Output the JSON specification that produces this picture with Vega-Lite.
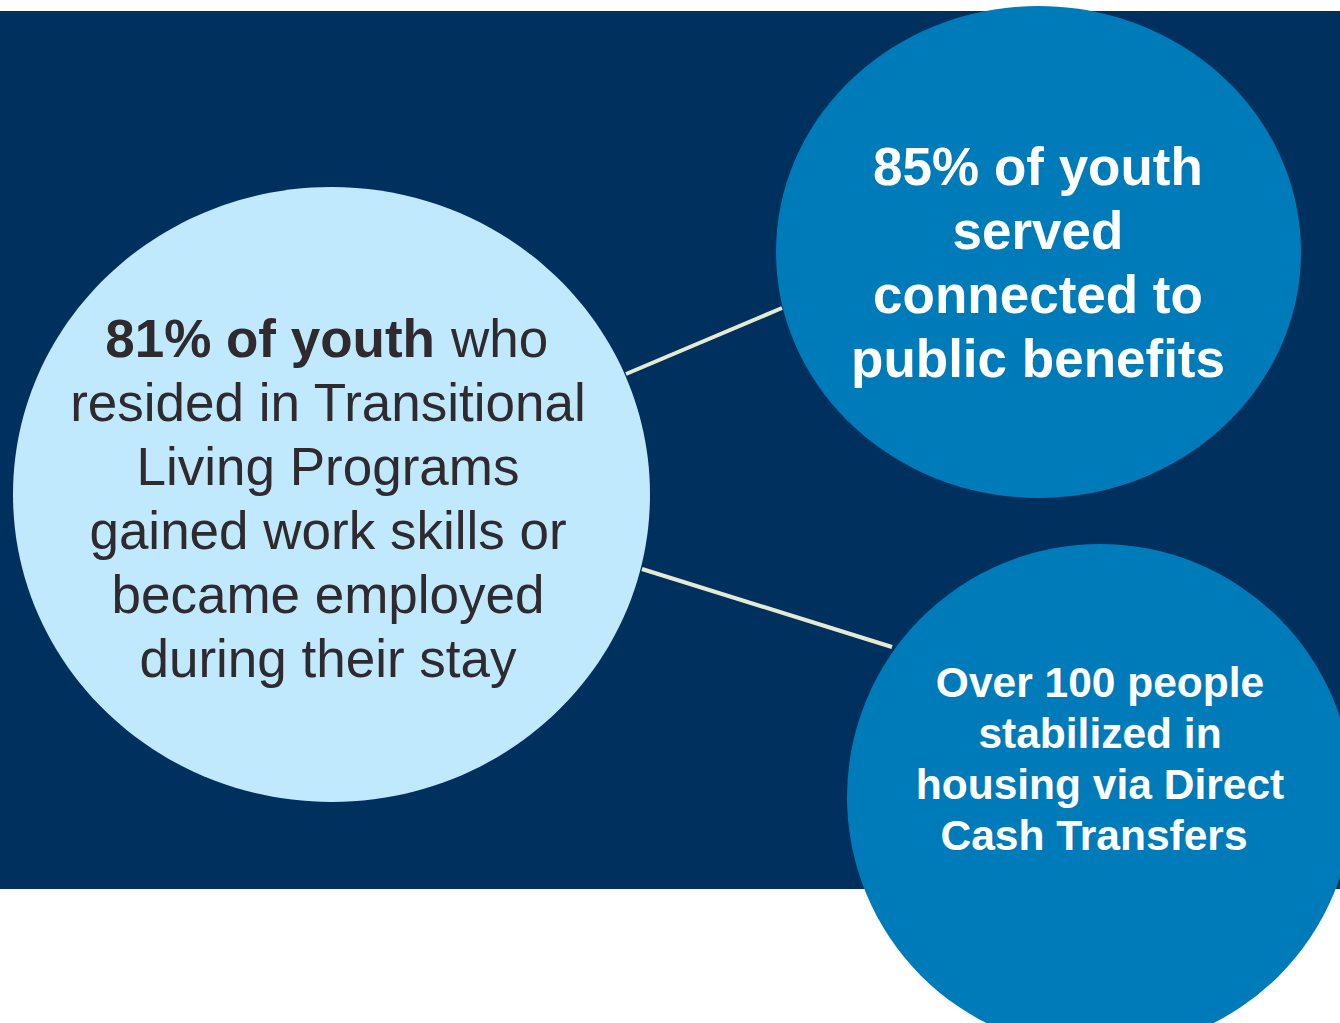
{
  "$schema": "https://vega.github.io/schema/vega-lite/v6.json",
  "width": 1340,
  "height": 1023,
  "padding": 0,
  "autosize": {"type": "none"},
  "background": "#ffffff",
  "config": {"view": {"stroke": null}},
  "datasets": {
    "panel": [{"x": 0, "x2": 1340, "y": 11, "y2": 889}],
    "bubbles": [
      {"id": "left", "cx": 331.5, "cy": 494.5, "r": 318.5},
      {"id": "top", "cx": 1038.5, "cy": 252, "r": 262.5},
      {"id": "bottom", "cx": 1100, "cy": 797, "r": 253}
    ],
    "links": [
      {"x": 626, "y": 374, "x2": 782, "y2": 308},
      {"x": 642, "y": 569, "x2": 892, "y2": 647}
    ],
    "labels": [
      {"g": "leftbold", "x": 435, "y": 357, "text": "81% of youth"},
      {"g": "leftreg", "x": 451, "y": 357, "text": "who"},
      {"g": "leftmid", "x": 328, "y": 421, "text": "resided in Transitional"},
      {"g": "leftmid", "x": 328, "y": 485, "text": "Living Programs"},
      {"g": "leftmid", "x": 328, "y": 549, "text": "gained work skills or"},
      {"g": "leftmid", "x": 328, "y": 613, "text": "became employed"},
      {"g": "leftmid", "x": 328, "y": 677, "text": "during their stay"},
      {"g": "top", "x": 1038, "y": 185, "text": "85% of youth"},
      {"g": "top", "x": 1038, "y": 249, "text": "served"},
      {"g": "top", "x": 1038, "y": 313, "text": "connected to"},
      {"g": "top", "x": 1038, "y": 377, "text": "public benefits"},
      {"g": "bottom", "x": 1100, "y": 697, "text": "Over 100 people"},
      {"g": "bottom", "x": 1100, "y": 748, "text": "stabilized in"},
      {"g": "bottom", "x": 1100, "y": 799, "text": "housing via Direct"},
      {"g": "bottom", "x": 1094, "y": 850, "text": "Cash Transfers"}
    ]
  },
  "layer": [
    {
      "data": {"name": "panel"},
      "mark": {"type": "rect", "color": "#00305e"},
      "encoding": {
        "x": {"field": "x", "type": "quantitative", "scale": {"domain": [0, 1340], "nice": false, "zero": false}, "axis": null},
        "x2": {"field": "x2"},
        "y": {"field": "y", "type": "quantitative", "scale": {"domain": [0, 1023], "nice": false, "zero": false, "reverse": true}, "axis": null},
        "y2": {"field": "y2"}
      }
    },
    {
      "data": {"name": "links"},
      "mark": {"type": "rule", "color": "#e4ebd2", "strokeWidth": 4},
      "encoding": {
        "x": {"field": "x", "type": "quantitative"},
        "x2": {"field": "x2"},
        "y": {"field": "y", "type": "quantitative"},
        "y2": {"field": "y2"}
      }
    },
    {
      "data": {"name": "bubbles"},
      "transform": [{"filter": "datum.id === 'left'"}],
      "mark": {"type": "point", "filled": true, "opacity": 1, "strokeWidth": 0, "color": "#c1e9fd",
        "shape": "M 1 0 C 1 0.5333 0.5523 0.9655 0 0.9655 C -0.5523 0.9655 -1 0.5333 -1 0 C -1 -0.5333 -0.5523 -0.9655 0 -0.9655 C 0.5523 -0.9655 1 -0.5333 1 0 Z"},
      "encoding": {
        "x": {"field": "cx", "type": "quantitative"},
        "y": {"field": "cy", "type": "quantitative"},
        "size": {"field": "r", "type": "quantitative", "scale": {"type": "pow", "exponent": 2, "domain": [0, 1000], "range": [0, 4000000]}, "legend": null}
      }
    },
    {
      "data": {"name": "bubbles"},
      "transform": [{"filter": "datum.id === 'top'"}],
      "mark": {"type": "point", "filled": true, "opacity": 1, "strokeWidth": 0, "color": "#007bb9",
        "shape": "M 1 0 C 1 0.5175 0.5523 0.937 0 0.937 C -0.5523 0.937 -1 0.5175 -1 0 C -1 -0.5175 -0.5523 -0.937 0 -0.937 C 0.5523 -0.937 1 -0.5175 1 0 Z"},
      "encoding": {
        "x": {"field": "cx", "type": "quantitative"},
        "y": {"field": "cy", "type": "quantitative"},
        "size": {"field": "r", "type": "quantitative", "scale": {"type": "pow", "exponent": 2, "domain": [0, 1000], "range": [0, 4000000]}, "legend": null}
      }
    },
    {
      "data": {"name": "bubbles"},
      "transform": [{"filter": "datum.id === 'bottom'"}],
      "mark": {"type": "point", "filled": true, "opacity": 1, "strokeWidth": 0, "color": "#007bb9", "shape": "circle"},
      "encoding": {
        "x": {"field": "cx", "type": "quantitative"},
        "y": {"field": "cy", "type": "quantitative"},
        "size": {"field": "r", "type": "quantitative", "scale": {"type": "pow", "exponent": 2, "domain": [0, 1000], "range": [0, 4000000]}, "legend": null}
      }
    },
    {
      "data": {"name": "labels"},
      "transform": [{"filter": "datum.g === 'leftbold'"}],
      "mark": {"type": "text", "font": "Liberation Sans", "fontSize": 53, "fontWeight": "bold", "color": "#2e2a2e", "align": "right", "baseline": "alphabetic"},
      "encoding": {
        "x": {"field": "x", "type": "quantitative"},
        "y": {"field": "y", "type": "quantitative"},
        "text": {"field": "text"}
      }
    },
    {
      "data": {"name": "labels"},
      "transform": [{"filter": "datum.g === 'leftreg'"}],
      "mark": {"type": "text", "font": "Liberation Sans", "fontSize": 53, "color": "#2e2a2e", "align": "left", "baseline": "alphabetic"},
      "encoding": {
        "x": {"field": "x", "type": "quantitative"},
        "y": {"field": "y", "type": "quantitative"},
        "text": {"field": "text"}
      }
    },
    {
      "data": {"name": "labels"},
      "transform": [{"filter": "datum.g === 'leftmid'"}],
      "mark": {"type": "text", "font": "Liberation Sans", "fontSize": 53, "color": "#2e2a2e", "align": "center", "baseline": "alphabetic"},
      "encoding": {
        "x": {"field": "x", "type": "quantitative"},
        "y": {"field": "y", "type": "quantitative"},
        "text": {"field": "text"}
      }
    },
    {
      "data": {"name": "labels"},
      "transform": [{"filter": "datum.g === 'top'"}],
      "mark": {"type": "text", "font": "Liberation Sans", "fontSize": 53, "fontWeight": "bold", "color": "#ffffff", "align": "center", "baseline": "alphabetic"},
      "encoding": {
        "x": {"field": "x", "type": "quantitative"},
        "y": {"field": "y", "type": "quantitative"},
        "text": {"field": "text"}
      }
    },
    {
      "data": {"name": "labels"},
      "transform": [{"filter": "datum.g === 'bottom'"}],
      "mark": {"type": "text", "font": "Liberation Sans", "fontSize": 42.5, "fontWeight": "bold", "color": "#ffffff", "align": "center", "baseline": "alphabetic"},
      "encoding": {
        "x": {"field": "x", "type": "quantitative"},
        "y": {"field": "y", "type": "quantitative"},
        "text": {"field": "text"}
      }
    }
  ]
}
